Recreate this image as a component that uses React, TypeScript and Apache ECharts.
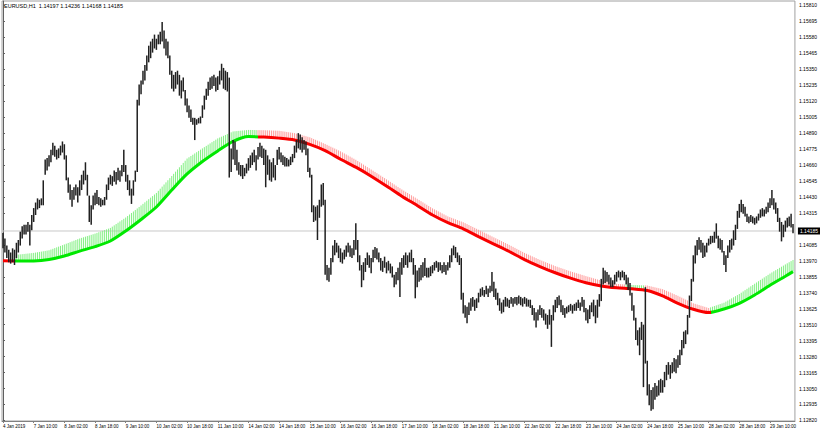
import React, { useEffect, useRef } from "react";
import * as echarts from "echarts";

// ---------- data (prices in pips above 1.1200) ----------
const symbolInfo = "EURUSD,H1  1.14197 1.14236 1.14168 1.14185";
const lastPrice = 1.14185;

const timeLabels = [
  "4 Jan 2019", "7 Jan 10:00", "8 Jan 02:00", "8 Jan 18:00", "9 Jan 10:00",
  "10 Jan 02:00", "10 Jan 18:00", "11 Jan 10:00", "14 Jan 02:00", "14 Jan 18:00",
  "15 Jan 10:00", "16 Jan 02:00", "16 Jan 18:00", "17 Jan 10:00", "18 Jan 02:00",
  "18 Jan 18:00", "21 Jan 10:00", "22 Jan 02:00", "22 Jan 18:00", "23 Jan 10:00",
  "24 Jan 02:00", "24 Jan 18:00", "25 Jan 10:00", "28 Jan 02:00", "28 Jan 18:00",
  "29 Jan 10:00",
];
const barsPerLabel = 16;

const priceTicks = [
  1.12820, 1.12935, 1.13050, 1.13165, 1.13280, 1.13395, 1.13510, 1.13625, 1.13740,
  1.13855, 1.13970, 1.14085, 1.14315, 1.14430, 1.14545, 1.14660, 1.14775,
  1.14890, 1.15005, 1.15120, 1.15235, 1.15350, 1.15465, 1.15580, 1.15695, 1.15810,
];

const barHigh = [
  217,213,208,205,203,206,205,210,212,218,
  222,223,223,225,223,230,235,239,242,241,
  242,255,270,271,273,277,282,280,277,278,
  280,283,281,273,257,252,248,250,252,250,
  255,259,262,268,259,244,237,244,246,248,
  243,242,241,243,252,257,259,258,262,261,
  264,262,266,277,266,259,255,249,255,262,
  313,324,327,334,338,345,352,355,357,360,
  357,360,362,369,363,357,355,345,334,331,
  333,334,331,327,329,320,314,309,306,300,
  300,299,300,301,309,316,321,326,329,330,
  331,329,330,334,339,336,334,333,329,278,
  284,283,277,268,266,266,264,267,271,273,
  275,277,273,279,282,280,278,277,273,270,
  268,271,266,277,279,275,273,272,271,270,
  272,274,280,284,289,288,286,284,283,278,
  264,259,237,236,237,241,252,253,241,194,
  192,199,208,212,210,208,206,203,205,208,
  210,208,206,212,224,212,201,194,196,199,
  203,201,199,205,207,206,203,199,197,200,
  196,197,195,193,187,189,192,196,199,201,
  203,201,203,205,199,194,190,192,194,196,
  199,192,192,193,194,196,197,196,196,194,
  196,194,196,201,206,208,207,203,201,199,
  174,165,164,167,170,171,169,170,174,177,
  178,176,179,177,179,189,182,177,174,170,
  167,169,171,170,169,171,170,171,171,172,
  171,170,171,170,169,169,165,163,160,162,
  165,163,162,159,158,162,158,165,169,171,
  172,169,165,163,164,165,166,165,166,167,
  169,167,171,169,163,162,165,167,169,165,
  169,173,184,192,190,189,187,185,183,187,
  189,190,189,190,189,187,185,181,174,165,
  156,147,149,153,151,178,125,108,104,106,
  109,107,111,112,111,117,122,124,122,124,
  127,126,129,133,140,146,147,158,172,184,
  201,208,212,214,212,210,208,210,213,215,
  215,218,224,215,213,212,204,201,208,212,
  213,219,223,233,238,241,238,236,231,229,
  230,229,228,229,231,234,235,234,236,239,
  242,248,242,239,235,228,225,223,226,228,
  229,231,223.6,
];

const barLow = [
  206,203,199,196,195,196,194,199,203,208,
  213,216,216,218,208,219,225,230,234,235,
  237,237,259,262,265,268,273,272,270,271,
  273,275,270,255,246,241,236,241,244,239,
  244,248,252,255,244,225,223,234,237,238,
  237,236,237,237,241,248,252,251,254,252,
  255,254,258,261,254,248,244,238,244,254,
  261,309,317,324,327,334,340,343,347,350,
  349,353,353,355,350,345,343,331,321,319,
  321,324,316,314,319,309,304,300,297,295,
  284,295,296,296,300,306,313,316,320,321,
  323,319,320,324,327,321,320,319,257,261,
  270,266,262,259,258,256,258,260,262,264,
  266,268,262,270,272,271,266,250,259,255,
  254,257,255,266,270,268,266,265,265,265,
  266,268,271,275,278,277,275,277,273,261,
  257,232,225,226,212,228,236,237,187,183,
  182,187,196,201,203,199,196,195,198,200,
  203,200,199,201,205,196,190,178,183,189,
  194,192,188,196,199,198,196,190,189,192,
  188,190,188,185,178,180,183,171,187,192,
  194,192,196,196,187,170,178,182,183,185,
  186,185,185,186,188,190,192,189,190,188,
  189,187,190,192,196,201,199,196,194,169,
  159,156,152,158,161,164,161,163,167,171,
  172,171,173,171,174,175,171,169,165,161,
  159,160,164,164,163,166,164,166,165,166,
  165,164,166,164,164,163,158,154,149,154,
  158,156,154,151,148,151,135,154,160,163,
  165,160,158,156,159,160,161,159,161,161,
  163,161,164,160,154,152,155,160,157,152,
  156,164,168,180,181,182,180,178,178,180,
  182,185,183,185,183,180,176,172,161,154,
  140,136,129,140,106,123,100,93,89,90,
  97,99,100,102,102,106,111,115,112,116,
  117,116,120,122,129,134,137,144,156,168,
  182,195,201,205,203,199,200,203,208,209,
  210,210,213,206,205,203,194,189,199,203,
  205,208,212,220,228,232,231,229,225,224,
  225,224,223,224,226,228,229,229,231,232,
  235,237,234,231,225,218,211,214,218,221,
  222,221,216.8,
];

// moving average (thick line) and its band edge, read every 8 bars
const maSampleBars = [
  0, 8, 16, 24, 32, 40, 48, 56, 64, 72, 80, 88, 96, 104, 112, 120, 128, 136, 144, 152,
  160, 168, 176, 184, 192, 200, 208, 216, 224, 232, 240, 248, 256, 264, 272, 280, 288,
  296, 304, 312, 320, 328, 336, 344, 352, 360, 368, 376, 384, 392, 400, 408, 412,
];
const maLine = [
  197.0, 196.8, 196.9, 198.0, 200.5, 204.0, 207.2, 211.3, 218.5, 226.8, 235.8, 248.0,
  259.6, 268.6, 276.2, 283.0, 286.5, 286.2, 285.4, 284.1, 280.9, 276.4, 270.2, 264.5,
  258.0, 250.9, 243.6, 236.9, 230.0, 224.5, 220.1, 214.5, 209.1, 203.7, 197.9, 192.9,
  188.4, 184.5, 181.2, 178.9, 177.6, 176.9, 175.6, 171.7, 166.4, 162.1, 159.7, 162.3,
  166.4, 172.4, 179.4, 185.9, 189.2,
];
const maBand = [
  197.0, 201.5, 202.7, 204.6, 208.8, 213.1, 216.6, 220.7, 228.2, 236.9, 245.9, 258.1,
  270.7, 278.0, 285.2, 290.2, 291.3, 291.1, 290.7, 289.0, 286.0, 281.2, 275.9, 269.8,
  262.8, 255.7, 248.4, 241.7, 234.8, 229.0, 224.8, 219.4, 213.9, 208.5, 202.7, 197.7,
  193.2, 189.4, 186.0, 182.8, 180.4, 179.6, 179.2, 176.6, 171.8, 166.4, 163.0, 166.8,
  173.1, 180.5, 187.8, 194.4, 197.6,
];
// colour changes (bar index where a new colour starts; true = rising/green)
const lineTrendStart = [0, 6, 133, 369];
const lineTrendUp = [false, true, false, true];
const bandTrendStart = [6, 133, 325, 335, 369];
const bandTrendUp = [true, false, true, false, true];

// ---------- helpers ----------
const BASE = 1.12;
const toPrice = (p: number) => BASE + p / 10000;

const GREEN = "#00e800";
const RED = "#f80000";
const HATCH_GREEN = "#84f084";
const HATCH_RED = "#ff9c9c";
const FONT = "Liberation Sans";
const X_MIN = -0.5;
const X_MAX = 413;

export default function App() {
  const ref = useRef<HTMLDivElement>(null);

  useEffect(() => {
    if (!ref.current) return;
    const chart = echarts.init(ref.current, null, { renderer: "svg" });

    const bars = barHigh.map((h, i) => [i, toPrice(barLow[i]), toPrice(h)]);
    const lineData = maSampleBars.map((b, k) => [b, toPrice(maLine[k])]);
    const segs: number[][] = [];
    for (let k = 0; k < maSampleBars.length - 1; k++) {
      segs.push([
        maSampleBars[k], maSampleBars[k + 1],
        toPrice(maLine[k]), toPrice(maLine[k + 1]),
        toPrice(maBand[k]), toPrice(maBand[k + 1]),
      ]);
    }
    const lastBar = maSampleBars[maSampleBars.length - 1];

    const bandColor = (j: number) => {
      let c: string | null = null;
      for (let s = 0; s < bandTrendStart.length; s++) {
        if (j >= bandTrendStart[s]) c = bandTrendUp[s] ? HATCH_GREEN : HATCH_RED;
      }
      return c;
    };

    const pieces = lineTrendStart.map((s, i) => {
      const piece: any = { color: lineTrendUp[i] ? GREEN : RED };
      if (i > 0) piece.gte = s;
      if (i < lineTrendStart.length - 1) piece.lt = lineTrendStart[i + 1];
      return piece;
    });

    const labelBars = timeLabels.map((_, i) => i * barsPerLabel);

    chart.setOption({
      animation: false,
      backgroundColor: "#ffffff",
      textStyle: { fontFamily: FONT },
      grid: {
        left: 1, top: 1, right: 23, bottom: 12,
        show: true, borderColor: "#a0a0a0", borderWidth: 1,
      },
      graphic: [
        {
          type: "text", left: 4, top: 3,
          style: { text: symbolInfo, fontSize: 5.5, fontFamily: FONT, fill: "#000" },
        },
      ],
      xAxis: {
        type: "value", min: X_MIN, max: X_MAX,
        splitLine: { show: false },
        axisLine: { show: true, lineStyle: { color: "#808080", width: 1 } },
        axisTick: { show: true, customValues: labelBars, length: 2, lineStyle: { color: "#808080" } },
        axisLabel: {
          customValues: labelBars,
          formatter: (v: number) => timeLabels[Math.round(v / barsPerLabel)] ?? "",
          fontSize: 4.5, color: "#000", align: "left", margin: 3, fontFamily: FONT,
        },
      },
      yAxis: {
        type: "value", position: "right", min: 1.12816, max: 1.15842,
        splitLine: { show: false },
        axisLine: { show: true, lineStyle: { color: "#606060", width: 1 } },
        axisTick: { show: true, customValues: priceTicks, length: 2, lineStyle: { color: "#606060" } },
        axisLabel: {
          customValues: priceTicks,
          formatter: (v: number) => v.toFixed(5),
          fontSize: 5, color: "#000", margin: 4, fontFamily: FONT,
        },
      },
      visualMap: {
        show: false, type: "piecewise", seriesIndex: 1, dimension: 0, pieces,
      },
      series: [
        {
          type: "custom",
          silent: true,
          clip: true,
          data: segs,
          encode: { x: [0, 1], y: [2, 3, 4, 5] },
          renderItem: (params: any, api: any) => {
            const s0 = api.value(0), s1 = api.value(1);
            const pA0 = api.coord([s0, api.value(2)]);
            const pA1 = api.coord([s1, api.value(3)]);
            const pB0 = api.coord([s0, api.value(4)]);
            const pB1 = api.coord([s1, api.value(5)]);
            const end = s1 === lastBar ? s1 : s1 - 1;
            const children: any[] = [];
            for (let j = s0; j <= end; j++) {
              const c = bandColor(j);
              if (!c) continue;
              const t = (j - s0) / (s1 - s0);
              const x = pA0[0] + (pA1[0] - pA0[0]) * t;
              const ya = pA0[1] + (pA1[1] - pA0[1]) * t;
              const yb = pB0[1] + (pB1[1] - pB0[1]) * t;
              children.push({
                type: "line",
                shape: { x1: x, y1: ya, x2: x, y2: yb },
                style: { stroke: c, lineWidth: 1 },
              });
            }
            return { type: "group", children };
          },
          z: 2,
        },
        {
          type: "line",
          data: lineData,
          smooth: 0.25,
          showSymbol: false,
          lineStyle: { width: 3 },
          silent: true,
          z: 3,
        },
        {
          type: "line",
          data: [[X_MIN, lastPrice], [X_MAX, lastPrice]],
          showSymbol: false,
          silent: true,
          lineStyle: { color: "#c8c8c8", width: 1 },
          itemStyle: { color: "#c8c8c8" },
          endLabel: {
            show: true,
            formatter: lastPrice.toFixed(5),
            backgroundColor: "#000",
            color: "#fff",
            fontSize: 5,
            fontFamily: FONT,
            padding: [1, 2],
            distance: 3,
          },
          z: 1,
        },
        {
          type: "custom",
          silent: true,
          clip: true,
          data: bars,
          encode: { x: 0, y: [1, 2] },
          renderItem: (params: any, api: any) => {
            const i = api.value(0);
            const lo = api.coord([i, api.value(1)]);
            const hi = api.coord([i, api.value(2)]);
            return {
              type: "line",
              shape: { x1: lo[0], y1: lo[1], x2: hi[0], y2: hi[1] },
              style: { stroke: "#202020", lineWidth: 1.5 },
            };
          },
          z: 4,
        },
      ],
    });

    return () => chart.dispose();
  }, []);

  return (
    <div
      ref={ref}
      style={{ position: "fixed", left: 0, top: 0, width: 820, height: 433, background: "#fff" }}
    />
  );
}
